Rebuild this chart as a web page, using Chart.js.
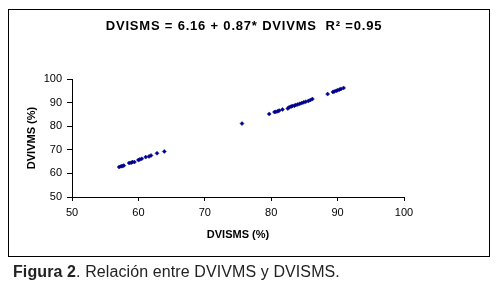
<!DOCTYPE html>
<html>
<head>
<meta charset="utf-8">
<script src="https://cdn.jsdelivr.net/npm/chart.js@4"></script>
<style>
  html, body { margin: 0; padding: 0; background: #fff; }
  body { width: 498px; height: 290px; position: relative; overflow: hidden; font-family: "Liberation Sans", Arial, sans-serif; }
  #box { position: absolute; left: 8px; top: 9px; width: 482px; height: 248px; box-sizing: border-box; border: 1px solid #000; }
  #wrap { position: absolute; left: 0; top: 0; width: 498px; height: 290px; }
  #caption { position: absolute; left: 13px; top: 262px; font-size: 16px; letter-spacing: 0.1px; color: #222; white-space: nowrap; line-height: 19px; }
</style>
</head>
<body>
<div id="box"></div>
<div id="wrap"><canvas id="c" width="498" height="290"></canvas></div>
<div id="caption"><b>Figura 2</b>. Relación entre DVIVMS y DVISMS.</div>
<script>
const chartTitle = "DVISMS = 6.16 + 0.87* DVIVMS  R\u00B2 =0.95";
const xAxisTitle = "DVISMS (%)";
const yAxisTitle = "DVIVMS (%)";
const xTicks = [50, 60, 70, 80, 90, 100];
const yTicks = [50, 60, 70, 80, 90, 100];
const dvisms = [57.1, 57.4, 57.6, 57.8, 58.6, 58.9, 59.1, 59.4, 60.0, 60.2, 60.5, 61.1, 61.6, 61.9, 62.8, 63.9,
  75.6, 79.7, 80.5, 80.7, 81.0, 81.2, 81.7, 82.5, 82.7, 83.0, 83.2, 83.5, 83.7, 84.0, 84.3, 84.6, 84.9, 85.2, 85.6, 85.9, 86.2,
  88.5, 89.3, 89.5, 89.8, 90.0, 90.3, 90.5, 90.9];
const dvivms = [62.7, 63.0, 63.1, 63.3, 64.4, 64.5, 64.8, 64.8, 65.7, 65.9, 66.2, 66.9, 67.2, 67.6, 68.5, 69.3,
  81.1, 85.2, 86.0, 86.1, 86.3, 86.6, 87.1, 87.5, 88.0, 88.3, 88.6, 88.7, 89.0, 89.2, 89.5, 89.8, 90.1, 90.4, 90.7, 91.1, 91.5,
  93.6, 94.5, 94.7, 95.0, 95.2, 95.5, 95.8, 96.2];

const points = dvisms.map((x, i) => ({ x: x, y: dvivms[i] }));
const fontFam = '"Liberation Sans", Arial, sans-serif';

const titlePlugin = {
  id: 'boxTitle',
  afterDraw(chart) {
    const ctx = chart.ctx;
    ctx.save();
    ctx.font = 'bold 13px ' + fontFam;
    if ('letterSpacing' in ctx) ctx.letterSpacing = '0.8px';
    ctx.fillStyle = '#000';
    ctx.textAlign = 'center';
    ctx.textBaseline = 'middle';
    ctx.fillText(chartTitle, 244, 26);
    ctx.restore();
  }
};

new Chart(document.getElementById('c'), {
  type: 'scatter',
  data: {
    datasets: [{
      data: points,
      pointStyle: 'rectRot',
      radius: 2,
      backgroundColor: '#00008b',
      borderColor: '#00008b',
      borderWidth: 0.5
    }]
  },
  options: {
    responsive: false,
    animation: false,
    layout: { padding: { left: 0, right: 94, top: 79, bottom: 48 } },
    plugins: {
      legend: { display: false },
      tooltip: { enabled: false },
      title: { display: false }
    },
    scales: {
      x: {
        type: 'linear',
        min: xTicks[0], max: xTicks[xTicks.length - 1],
        afterBuildTicks: s => { s.ticks = xTicks.map(v => ({ value: v })); },
        afterFit: s => { s.height = 45; },
        border: { color: '#000', width: 1 },
        grid: { drawOnChartArea: false, drawTicks: true, tickLength: 4, color: '#000' },
        ticks: { color: '#000', font: { family: fontFam, size: 11 }, padding: 5, maxRotation: 0 },
        title: { display: true, text: xAxisTitle, color: '#000', font: { family: fontFam, size: 11, weight: 'bold', lineHeight: 1.2 }, padding: { top: 0, bottom: 0 } }
      },
      y: {
        type: 'linear',
        min: yTicks[0], max: yTicks[yTicks.length - 1],
        afterBuildTicks: s => { s.ticks = yTicks.map(v => ({ value: v })); },
        afterFit: s => { s.width = 72; },
        border: { color: '#000', width: 1 },
        grid: { drawOnChartArea: false, drawTicks: true, tickLength: 5, color: '#000' },
        ticks: { color: '#000', font: { family: fontFam, size: 11 }, padding: 5 },
        title: { display: true, text: yAxisTitle, color: '#000', font: { family: fontFam, size: 11, weight: 'bold', lineHeight: 1.2 }, padding: { top: 25, bottom: 0 } }
      }
    }
  },
  plugins: [titlePlugin]
});
</script>
</body>
</html>
